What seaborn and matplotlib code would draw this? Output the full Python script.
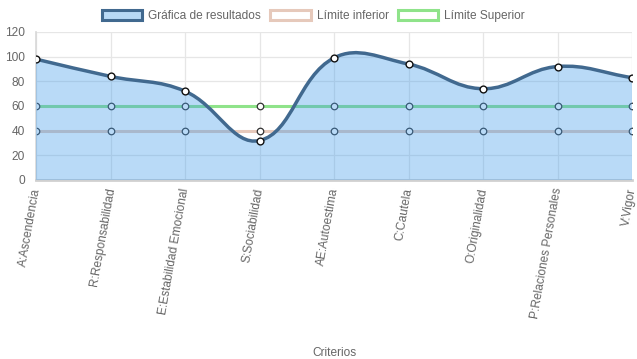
import numpy as np
import matplotlib
matplotlib.use("Agg")
import matplotlib.pyplot as plt
import seaborn as sns
from matplotlib.path import Path
from matplotlib.patches import PathPatch, Patch

# --- data ---
criterios = ["A:Ascendencia", "R:Responsabilidad", "E:Estabilidad Emocional",
             "S:Sociabilidad", "AE:Autoestima", "C:Cautela", "O:Originalidad",
             "P:Relaciones Personales", "V:Vigor"]
resultados = [98, 84, 72, 32, 99, 94, 74, 92, 83]
limite_inferior = [40, 40, 40, 40, 40, 40, 40, 40, 40]
limite_superior = [60, 60, 60, 60, 60, 60, 60, 60, 60]
y_ticks = [0, 20, 40, 60, 80, 100, 120]

sns.set_theme(style="white")
plt.rcParams["font.family"] = ["Liberation Sans", "DejaVu Sans"]
FS = 8.6
TXT = "#666666"

fig = plt.figure(figsize=(6.37, 3.59), dpi=100)
ax = fig.add_axes([36 / 637, 1 - 180 / 359, (632 - 36) / 637, 148 / 359])
x = np.arange(len(criterios))
ax.set_xlim(0, len(criterios) - 1)
ax.set_ylim(0, 120)


def bezier_path(xs, ys, tension=0.4):
    # chart.js style spline, control points computed in pixel space
    pts = ax.transData.transform(np.column_stack([xs, ys]))
    n = len(pts)
    verts = [pts[0]]
    codes = [Path.MOVETO]
    cps = []
    for i in range(n):
        prev = pts[i - 1] if i > 0 else pts[i]
        cur = pts[i]
        nxt = pts[i + 1] if i < n - 1 else pts[i]
        d01 = np.hypot(*(cur - prev))
        d12 = np.hypot(*(nxt - cur))
        tot = d01 + d12
        s01 = d01 / tot if tot else 0
        s12 = d12 / tot if tot else 0
        cps.append((cur - tension * s01 * (nxt - prev), cur + tension * s12 * (nxt - prev)))
    for i in range(1, n):
        verts += [cps[i - 1][1], cps[i][0], pts[i]]
        codes += [Path.CURVE4] * 3
    return ax.transData.inverted().transform(np.array(verts)), codes


# limit lines
lim_inf_color = "#e6c9bb"
lim_sup_color = "#8fe38a"
ax.plot(x, limite_inferior, color=lim_inf_color, lw=2.2, zorder=2)
ax.plot(x, limite_superior, color=lim_sup_color, lw=2.2, zorder=2)
ax.scatter(x, limite_inferior, s=22, facecolor="white", edgecolor="#333333", lw=0.9, zorder=2.5)
ax.scatter(x, limite_superior, s=22, facecolor="white", edgecolor="#333333", lw=0.9, zorder=2.5)

# resultados curve + fill
verts, codes = bezier_path(x, resultados)
fill_verts = np.vstack([verts, [[x[-1], 0], [x[0], 0], verts[0]]])
fill_codes = codes + [Path.LINETO, Path.LINETO, Path.CLOSEPOLY]
ax.add_patch(PathPatch(Path(fill_verts, fill_codes), facecolor=(0.26, 0.61, 0.92, 0.37),
                       edgecolor="none", zorder=3))
ax.add_patch(PathPatch(Path(verts, codes), facecolor="none", edgecolor="#41698f", lw=2.5,
                       zorder=4, capstyle="round"))
ax.scatter(x, resultados, s=24, facecolor="white", edgecolor="#111111", lw=1.0, zorder=5)

# axes styling
ax.set_xticks(x)
ax.set_xticklabels([])
for xi, lab in zip(x, criterios):
    ax.annotate(lab, xy=(xi, 0), xycoords=("data", "axes fraction"),
                xytext=(0.4, -5.8), textcoords="offset points",
                rotation=80, ha="right", va="center", rotation_mode="anchor",
                fontsize=FS, color=TXT, annotation_clip=False)
ax.set_yticks(y_ticks)
ax.set_yticklabels([str(v) for v in y_ticks], fontsize=FS, color=TXT)
ax.grid(True, color="#e6e6e6", lw=0.9)
ax.set_axisbelow(True)
for side in ["top", "right"]:
    ax.spines[side].set_visible(False)
ax.spines["left"].set_color("#d9d9d9")
ax.spines["bottom"].set_color("#d0d0d0")
ax.spines["bottom"].set_linewidth(2)
ax.tick_params(axis="both", which="both", length=6, color="#e0e0e0", width=0.9)
ax.tick_params(axis="y", pad=2)
ax.set_xlabel("Criterios", fontsize=FS, color=TXT)
ax.xaxis.set_label_coords(0.5, (180 - 347) / 148)

handles = [
    Patch(facecolor="#b8d9f5", edgecolor="#41698f", lw=2.2, label="Gráfica de resultados"),
    Patch(facecolor="white", edgecolor=lim_inf_color, lw=2.2, label="Límite inferior"),
    Patch(facecolor="white", edgecolor=lim_sup_color, lw=2.2, label="Límite Superior"),
]
leg = fig.legend(handles=handles, loc="center", bbox_to_anchor=(0.492, 1 - 16 / 359), ncol=3,
                 frameon=False, fontsize=FS, handlelength=3.4, handleheight=1.0,
                 columnspacing=0.75, handletextpad=0.5, borderaxespad=0)
for t in leg.get_texts():
    t.set_color(TXT)

fig.savefig("out.png", dpi=100)
